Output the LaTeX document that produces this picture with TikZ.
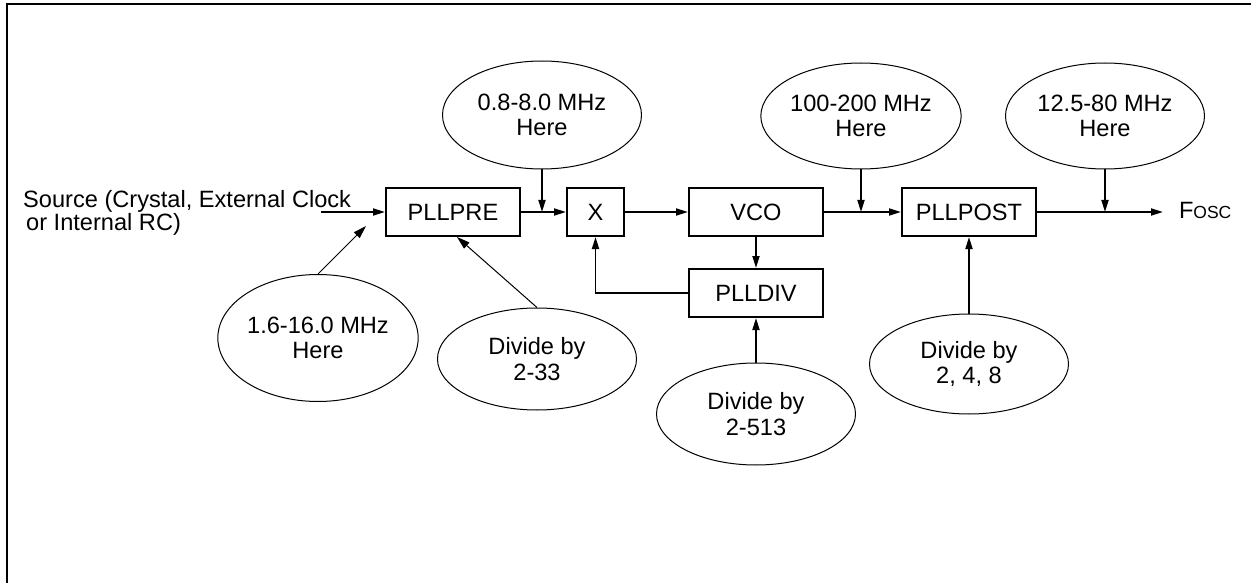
\documentclass[tikz,border=0pt]{standalone}
\usepackage{fontspec}
\setmainfont{Liberation Sans}
\usetikzlibrary{shapes.geometric,arrows.meta}

\begin{document}
\begin{tikzpicture}[x=1pt,y=-1pt,
    font=\fontsize{23.6}{25.5}\selectfont,
    caja/.style={draw, line width=2pt, minimum width=134pt, minimum height=48pt, inner sep=0pt},
    elipse/.style={draw, ellipse, line width=1pt, inner sep=0pt, minimum width=199pt, align=center},
    flecha/.style={line width=1.8pt, -{Triangle[length=12pt,width=7pt]}},
    fina/.style={line width=1pt, -{Triangle[length=13pt,width=8pt]}}]
            \useasboundingbox (0,0) rectangle (1251,583);

            % Marco (solo se ven los bordes superior e izquierdo)
            \draw[line width=2pt] (7,600) |- (1260,4);

            % Bloques del PLL
            \node[caja] (pllpre) at (453,212) {PLLPRE};
            \node[caja, minimum width=57pt] (mult) at (595.5,212) {X};
            \node[caja] (vco) at (756,212) {VCO};
            \node[caja] (plldiv) at (756,293) {PLLDIV};
            \node[caja] (pllpost) at (969,212) {PLLPOST};

            % Frecuencias y divisores
            \node[elipse, minimum height=108pt] (f08) at (542,115) {0.8-8.0 MHz\\Here};
            \node[elipse, minimum height=106pt] (f100) at (861,116) {100-200 MHz\\Here};
            \node[elipse, minimum height=106pt] (f125) at (1105,116) {12.5-80 MHz\\Here};
            \node[elipse, minimum height=127pt] (f16) at (318,338) {1.6-16.0 MHz\\Here};
            \node[elipse, minimum height=102pt] (div33) at (537,359) {Divide by\\2-33};
            \node[elipse, minimum height=102pt] (div513) at (756,414) {Divide by\\2-513};
            \node[elipse, minimum height=100pt] (div248) at (969,364) {Divide by\\2, 4, 8};

            % Entrada y salida
            \node[anchor=north west, inner sep=0pt, align=left, font=\fontsize{23.6}{20}\selectfont] (fuente) at (23,190)
                {Source (Crystal, External Clock\\\hspace*{3pt}or Internal RC)};
            \node[anchor=west, inner sep=0pt, outer xsep=16pt] (fosc) at (1163,210) {F{\fontsize{17.5}{17.5}\selectfont OSC}};
            \coordinate (src) at (321,212);
            \coordinate (t16) at (366,226);

            % Conexiones
            \draw[flecha] (src) -- (pllpre.west);
            \draw[fina] (f16.north) -- (t16);
            \draw[fina] (div33.north) -- ([xshift=4pt]pllpre.south);
            \draw[flecha] (pllpre.east) -- (mult.west);
            \draw[flecha] (f08.south) -- (f08.south |- pllpre.east);
            \draw[flecha] (mult.east) -- (vco.west);
            \draw[flecha] (vco.east) -- (pllpost.west);
            \draw[flecha] (f100.south) -- (f100.south |- vco.east);
            \draw[flecha] (pllpost.east) -- (pllpost.east -| fosc.west);
            \draw[flecha] (f125.south) -- (f125.south |- pllpost.east);
            \draw[flecha] (vco.south) -- (plldiv.north);
            \draw[flecha] (plldiv.west) -| (mult.south);
            \draw[flecha] (div513.north) -- (plldiv.south);
            \draw[flecha] (div248.north) -- (pllpost.south);
        \end{tikzpicture}
\end{document}
